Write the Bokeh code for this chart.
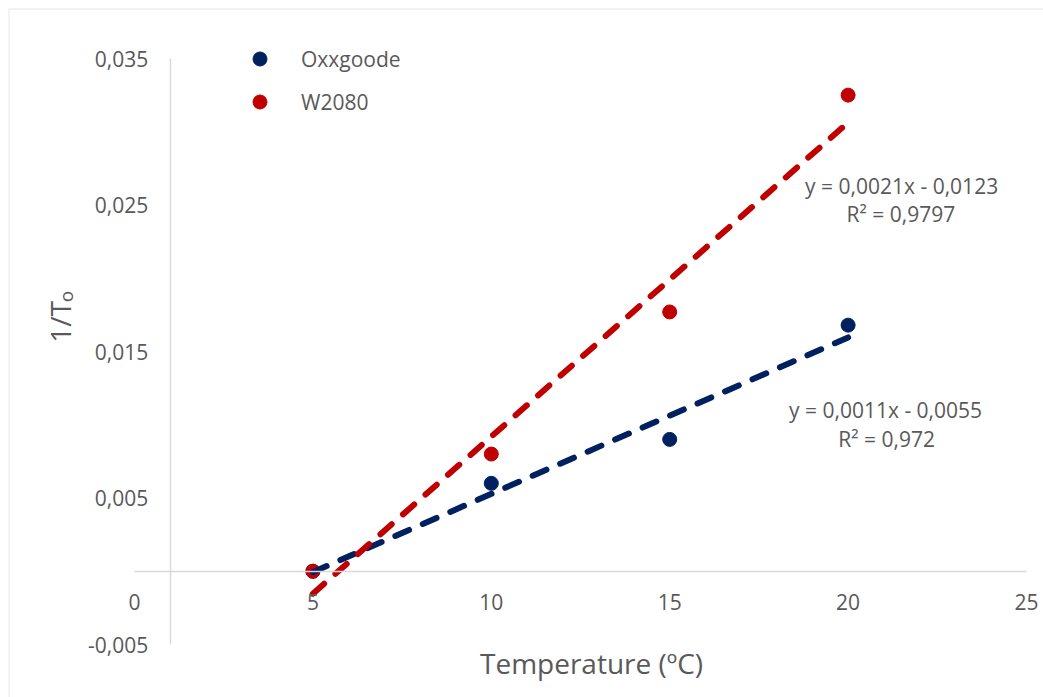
import numpy as np
from bokeh.plotting import figure
from bokeh.models import (LinearAxis, FixedTicker, CustomJSTickFormatter, Label,
                          Legend, LegendItem, ColumnDataSource, BoxAnnotation)
from bokeh.embed import file_html
from bokeh.resources import INLINE

# ---- data ----
temps = [5, 10, 15, 20]
oxxgoode = [0.0, 0.006, 0.009, 0.0168]
w2080 = [0.0, 0.008, 0.0177, 0.0325]
series_names = ["Oxxgoode", "W2080"]
x_ticks = [0, 5, 10, 15, 20, 25]
y_ticks = [-0.005, 0.005, 0.015, 0.025, 0.035]
eq_oxx = ["y = 0,0011x - 0,0055", "R² = 0,972"]
eq_w = ["y = 0,0021x - 0,0123", "R² = 0,9797"]
x_title = "Temperature (ºC)"
y_title = "1/T"
y_title_sub = "o"

FONT = "Open Sans"
TXT = "#595959"
BLUE = "#002060"
RED = "#C00000"
AXIS = "#D9D9D9"

# ---- layout: plot area (axis extents) placed inside a full-canvas frame ----
W, H = 1043, 697
X0, X1 = 0.0, 25.0            # x axis extent
Y0, Y1 = -0.005, 0.035        # y axis extent
PL, PR, PT, PB = 134, 1026, 58, 644   # pixel box of the axis extents
sx = (PR - PL) / (X1 - X0)
sy = (PB - PT) / (Y1 - Y0)
x_range = (X0 - PL / sx, X1 + (W - PR) / sx)
y_range = (Y0 - (H - PB) / sy, Y1 + PT / sy)

p = figure(frame_width=W, frame_height=H, x_range=x_range, y_range=y_range,
           output_backend="svg", toolbar_location=None,
           min_border_left=0, min_border_right=0, min_border_top=0, min_border_bottom=0,
           x_axis_type=None, y_axis_type=None)
p.xgrid.visible = False
p.ygrid.visible = False
p.outline_line_color = None
p.background_fill_color = "white"
p.border_fill_color = "white"

# chart-area border (left and top visible, rest outside the picture)
p.add_layout(BoxAnnotation(left=X0 - (PL - 8.5) / sx, top=Y1 + (PT - 8.5) / sy,
                           right=x_range[1] + 5, bottom=y_range[0] - 0.01,
                           fill_alpha=0, line_color="#cccccc", line_width=1.5))

# axes crossing at y=0 and x=1
xaxis = LinearAxis(fixed_location=0, bounds=(X0, X1), ticker=FixedTicker(ticks=x_ticks))
yaxis = LinearAxis(fixed_location=1, bounds=(Y0, Y1), ticker=FixedTicker(ticks=y_ticks),
                   formatter=CustomJSTickFormatter(code="return tick.toFixed(3).replace('.', ',');"))
for ax in (xaxis, yaxis):
    ax.axis_line_color = AXIS
    ax.axis_line_width = 1.5
    ax.major_tick_line_color = None
    ax.minor_tick_line_color = None
    ax.major_tick_in = 0
    ax.major_tick_out = 0
    ax.minor_tick_in = 0
    ax.minor_tick_out = 0
    ax.major_label_text_font = FONT
    ax.major_label_text_font_size = "21px"
    ax.major_label_text_color = TXT
xaxis.major_label_standoff = 23
yaxis.major_label_standoff = 22
p.add_layout(xaxis, "below")
p.add_layout(yaxis, "left")

# scatter points
src = ColumnDataSource(dict(t=temps, a=oxxgoode, b=w2080))
r_blue = p.scatter("t", "a", source=src, size=14, color=BLUE, marker="circle")
r_red = p.scatter("t", "b", source=src, size=14, color=RED, marker="circle")

# linear trendlines
for ys, col in ((oxxgoode, BLUE), (w2080, RED)):
    m, c = np.polyfit(temps, ys, 1)
    xs = [min(temps), max(temps)]
    p.line(xs, [m * xs[0] + c, m * xs[1] + c], line_color=col, line_width=6,
           line_dash="15 15", line_cap="round")

# legend
legend = Legend(items=[LegendItem(label=series_names[0], renderers=[r_blue]),
                       LegendItem(label=series_names[1], renderers=[r_red])],
                location=(242, 578), orientation="vertical",
                glyph_width=35, glyph_height=35, label_height=35, label_standoff=24,
                spacing=8, padding=0, margin=0, border_line_color=None,
                background_fill_alpha=0, label_text_font=FONT,
                label_text_font_size="21px", label_text_color=TXT)
p.add_layout(legend, "center")

def lab(x, y, text, size="21px", align="center", angle=0.0):
    p.add_layout(Label(x=x, y=y, text=text, text_font=FONT, text_font_size=size,
                       text_color=TXT, text_align=align, text_baseline="alphabetic",
                       angle=angle))

# trendline equations
lab(21.50, 0.02627, eq_w[0])
lab(21.48, 0.02437, eq_w[1])
lab(21.05, 0.01100, eq_oxx[0])
lab(21.08, 0.00906, eq_oxx[1])

# axis titles
lab(12.81, -0.00623, x_title, size="28px")
lab(-2.10, 0.01560, y_title, size="28px", align="left", angle=np.pi / 2)
lab(-1.93, 0.01836, y_title_sub, size="19px", align="left", angle=np.pi / 2)

open("out.html", "w").write(file_html(p, INLINE))
